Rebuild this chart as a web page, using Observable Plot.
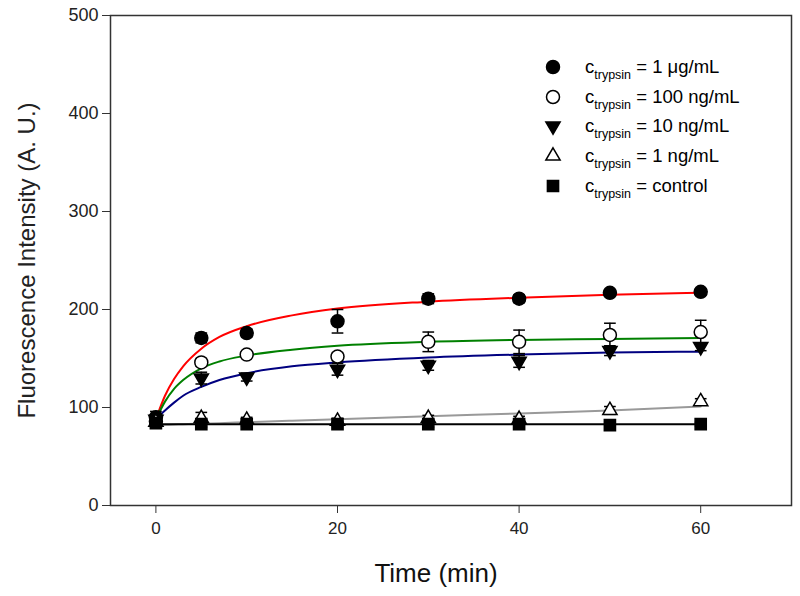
<!DOCTYPE html>
<html>
<head>
<meta charset="utf-8">
<script src="https://cdn.jsdelivr.net/npm/d3@7"></script>
<script src="https://cdn.jsdelivr.net/npm/@observablehq/plot@0.6"></script>
<style>
  html, body { margin: 0; padding: 0; background: #fff; }
  #wrap { position: relative; width: 800px; height: 596px; font-family: "Liberation Sans", Arial, sans-serif; }
  #legend { position: absolute; left: 542px; top: 52px; font-size: 18.5px; color: #000; }
  .row { display: flex; align-items: center; height: 29.8px; }
  .row svg { width: 22px; height: 22px; margin-right: 21px; overflow: visible; }
  sub { font-size: 12.5px; vertical-align: -6px; line-height: 0; }
</style>
</head>
<body>
<div id="wrap"><div id="chart"></div><div id="legend"></div></div>
<script>
// ---- data ----
const times = [0, 5, 10, 20, 30, 40, 50, 60];
const seriesNames = ["1 μg/mL", "100 ng/mL", "10 ng/mL", "1 ng/mL", "control"];
const val1ug   = [90, 171, 176, 188, 211, 211, 217, 218];
const err1ug   = [6, 5, 4, 12, 5, 4, 3, 3];
const val100ng = [86, 146, 154, 152, 167, 167, 174, 177];
const err100ng = [5, 4, 3, 4, 10, 12, 12, 12];
const val10ng  = [88, 130, 131, 139, 143, 147, 158, 162];
const err10ng  = [5, 6, 4, 6, 5, 6, 5, 4];
const val1ng   = [85, 89, 87, 86, 89, 88, 97, 106];
const err1ng   = [4, 6, 3, 3, 3, 3, 4, 3];
const valCtrl  = [84, 83, 83, 83, 83, 83, 82, 83];
const errCtrl  = [3, 3, 2, 2, 3, 3, 2, 2];

// fitted curves
const curveT  = [0, 1, 2, 3, 5, 7, 10, 15, 20, 30, 40, 50, 60];
const fit1ug   = [88, 112, 129, 142, 160, 172, 183, 194, 201, 208, 212, 215, 217];
const fit100ng = [88, 106, 119, 128, 140, 147, 153, 159, 163, 167, 169, 170, 171];
const fit10ng  = [88, 97, 105, 112, 121, 128, 135, 142, 146, 151, 154, 156, 157];
const fit1ng   = [82, 82.3, 82.6, 83, 83.5, 84, 85, 86.5, 88, 91, 94, 97, 101];
const fitCtrl  = [83, 83, 83, 83, 83, 83, 83, 83, 83, 83, 83, 83, 83];

const xTicks = [0, 20, 40, 60];
const yTicks = [0, 100, 200, 300, 400, 500];
const xTitle = ["Time (min)"];
const yTitle = "Fluorescence Intensity (A. U.)";

// ---- styles ----
const vals = [val1ug, val100ng, val10ng, val1ng, valCtrl];
const errs = [err1ug, err100ng, err10ng, err1ng, errCtrl];
const fits = [fit1ug, fit100ng, fit10ng, fit1ng, fitCtrl];
const lineColors = ["#ff0000", "#008000", "#000080", "#999999", "#000000"];
const symbols = ["circle", "circle", "triangle", "triangle", "square"];
const fills = ["black", "white", "black", "white", "black"];
const rotates = [0, 0, 180, 0, 0];
const radii = [6.5, 6.5, 5.3, 5.3, 6.3];

const points = [], bars = [], curves = [];
seriesNames.forEach((s, i) => {
  times.forEach((t, j) => {
    points.push({s, i, t, v: vals[i][j]});
    bars.push({s, i, t, lo: vals[i][j] - errs[i][j], hi: vals[i][j] + errs[i][j]});
  });
  curveT.forEach((t, j) => curves.push({s, i, t, v: fits[i][j]}));
});

const capSymbol = { draw(ctx, size) { const w = Math.sqrt(size) / 2; ctx.moveTo(-w, 0); ctx.lineTo(w, 0); } };

const marks = [];
seriesNames.forEach((s, i) => {
  marks.push(Plot.line(curves.filter(d => d.i === i), {x: "t", y: "v", stroke: lineColors[i], strokeWidth: 2, curve: "monotone-x"}));
});
seriesNames.forEach((s, i) => {
  const b = bars.filter(d => d.i === i);
  marks.push(Plot.ruleX(b, {x: "t", y1: "lo", y2: "hi", stroke: "black", strokeWidth: 1.5}));
  marks.push(Plot.dot(b, {x: "t", y: "lo", symbol: capSymbol, r: 6.6, stroke: "black", strokeWidth: 1.5}));
  marks.push(Plot.dot(b, {x: "t", y: "hi", symbol: capSymbol, r: 6.6, stroke: "black", strokeWidth: 1.5}));
});
seriesNames.forEach((s, i) => {
  marks.push(Plot.dot(points.filter(d => d.i === i), {x: "t", y: "v", symbol: symbols[i], r: radii[i], fill: fills[i], stroke: "black", strokeWidth: 1.5, rotate: rotates[i]}));
});

const chart = Plot.plot({
  width: 800,
  height: 596,
  marginLeft: 110,
  marginRight: 9,
  marginTop: 15,
  marginBottom: 91,
  style: {fontFamily: "'Liberation Sans', Arial, sans-serif", background: "white", color: "#222"},
  x: {domain: [-5, 70]},
  y: {domain: [0, 500]},
  marks: [
    ...marks,
    Plot.frame({stroke: "#333", strokeWidth: 1.5}),
    Plot.axisX({ticks: xTicks, tickSize: 8, tickPadding: 8, fontSize: 17, label: null, stroke: "#333"}),
    Plot.text(xTitle, {text: d => d, frameAnchor: "bottom", dy: 76, dx: -15, fontSize: 26, fill: "#111"}),
    Plot.axisY({ticks: yTicks, tickSize: 8, tickPadding: 4, fontSize: 18, label: null, stroke: "#333"}),
    Plot.axisY({ticks: [], label: yTitle, labelAnchor: "center", labelArrow: "none", labelOffset: 93, fontSize: 24})
  ]
});
document.getElementById("chart").appendChild(chart);

// ---- legend ----
const legend = d3.select("#legend");
seriesNames.forEach((s, i) => {
  const row = legend.append("div").attr("class", "row");
  const svg = row.append("svg").attr("viewBox", "-11 -11 22 22");
  const sym = d3.symbol(symbols[i] === "circle" ? d3.symbolCircle : symbols[i] === "square" ? d3.symbolSquare : d3.symbolTriangle, Math.PI * radii[i] * radii[i]);
  svg.append("path").attr("d", sym()).attr("fill", fills[i]).attr("stroke", "black").attr("stroke-width", 1.5)
    .attr("transform", rotates[i] ? `rotate(${rotates[i]})` : null);
  row.append("span").html(`c<sub>trypsin</sub> = ${s}`);
});
</script>
</body>
</html>
